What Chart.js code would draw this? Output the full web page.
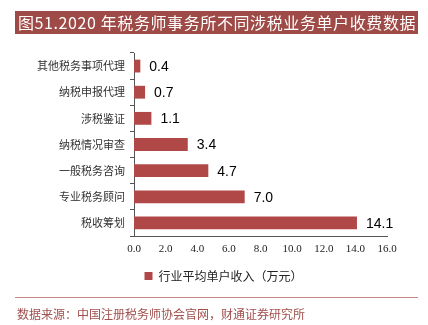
<!DOCTYPE html>
<html>
<head>
<meta charset="utf-8">
<script src="https://cdn.jsdelivr.net/npm/chart.js@4"></script>
<style>
  body { margin: 0; background: #fff; }
  #wrap { position: relative; width: 428px; height: 325px; overflow: hidden; }
  #title {
    position: absolute; left: 15px; top: 11px; width: 403px; height: 23px;
    background: #9e4a47; color: #fff; font: 16px "Noto Sans CJK SC", serif;
    line-height: 23px; padding-left: 3px; box-sizing: border-box; white-space: nowrap;
    letter-spacing: 0.6px;
  }
  #rule { position: absolute; left: 15px; top: 297px; width: 403px; height: 1px; background: #c48a88; }
  #source {
    position: absolute; left: 17px; top: 305px; color: #a0504d;
    font: 12px "Noto Sans CJK SC", serif; white-space: nowrap;
  }
  canvas { position: absolute; left: 0; top: 0; }
</style>
</head>
<body>
<div id="wrap">
  <canvas id="chart" width="428" height="325"></canvas>
  <div id="title">图51.2020 年税务师事务所不同涉税业务单户收费数据</div>
  <div id="rule"></div>
  <div id="source">数据来源：中国注册税务师协会官网，财通证券研究所</div>
</div>
<script>
// 数据
const categories = ['其他税务事项代理', '纳税申报代理', '涉税鉴证', '纳税情况审查', '一般税务咨询', '专业税务顾问', '税收筹划'];
const revenue = [0.4, 0.7, 1.1, 3.4, 4.7, 7.0, 14.1];
const xTicks = [0, 2, 4, 6, 8, 10, 12, 14, 16];
const seriesName = '行业平均单户收入（万元）';

// 柱子右侧数值标签
const valueLabels = {
    id: 'valueLabels',
    afterLayout(chart) {
        // 图例往右挪一点，和原图对齐
        chart.legend.left += 30;
        chart.legend.right += 30;
    },
    afterDatasetsDraw(chart) {
        const ctx = chart.ctx;
        const meta = chart.getDatasetMeta(0);
        ctx.save();
        ctx.fillStyle = '#000';
        ctx.font = '14px "Liberation Sans", sans-serif';
        ctx.textBaseline = 'middle';
        meta.data.forEach((bar, i) => {
            ctx.fillText(revenue[i].toFixed(1), bar.x + 9, bar.y + 1);
        });
        ctx.restore();
    }
};

const ctx = document.getElementById('chart').getContext('2d');
new Chart(ctx, {
    type: 'bar',
    data: {
        labels: categories,
        datasets: [{
            label: seriesName,
            data: revenue,
            backgroundColor: '#b04848',
            borderWidth: 0,
            categoryPercentage: 1,
            barPercentage: 0.49
        }]
    },
    options: {
        indexAxis: 'y',
        responsive: false,
        animation: false,
        layout: { padding: { top: 53, left: 0, right: 41, bottom: 33 } },
        plugins: {
            tooltip: { enabled: false },
            legend: {
                position: 'bottom',
                labels: {
                    boxWidth: 8, boxHeight: 8, padding: 10,
                    color: '#222',
                    font: { size: 12, family: '"Noto Sans CJK SC", sans-serif' }
                }
            }
        },
        scales: {
            x: {
                min: 0, max: 16,
                afterBuildTicks: s => { s.ticks = xTicks.map(v => ({ value: v })); },
                afterFit: s => { s.height = 24; },
                grid: { display: false, drawTicks: false },
                border: { display: true, color: '#555', width: 1 },
                ticks: {
                    color: '#222', padding: 7,
                    font: { size: 11, family: '"Liberation Serif", serif' },
                    callback: v => v.toFixed(1)
                }
            },
            y: {
                afterFit: s => { s.width = 134; },
                grid: { display: true, drawOnChartArea: false, tickLength: 4, color: '#555' },
                border: { display: true, color: '#555', width: 1 },
                ticks: {
                    color: '#333', padding: 5,
                    font: { size: 11, family: '"Noto Sans CJK SC", serif' }
                }
            }
        }
    },
    plugins: [valueLabels]
});
</script>
</body>
</html>
